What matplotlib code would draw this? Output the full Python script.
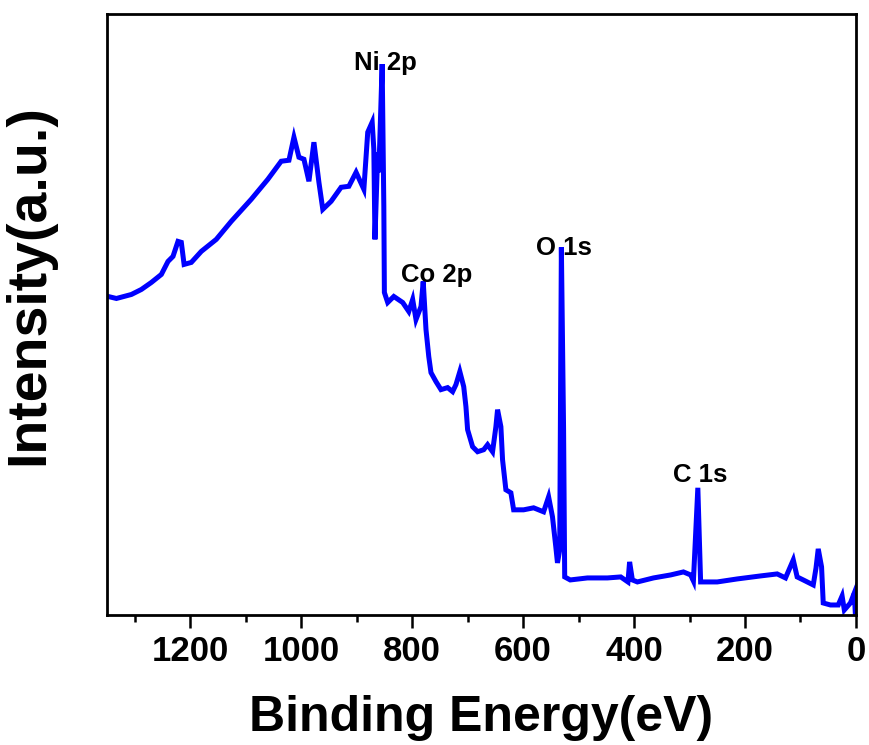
import numpy as np
import matplotlib
matplotlib.use("Agg")
import matplotlib.pyplot as plt

plt.rcParams["font.family"] = ["Liberation Sans", "DejaVu Sans"]
plt.rcParams["font.weight"] = "bold"

# XPS survey spectrum (binding energy in eV, intensity in a.u.)
energy = [1348, 1333, 1306, 1288, 1270, 1252, 1240, 1231, 1222, 1216, 1211, 1198,
          1180, 1153, 1126, 1090, 1060, 1036, 1022, 1013, 1004, 995, 986, 977,
          968, 961, 946, 928, 914, 901, 887, 880, 872, 869, 867, 862,
          860, 854, 851, 850, 844, 833, 817, 806, 799, 793, 784, 780,
          775, 770, 766, 757, 748, 736, 727, 721, 714, 707, 703, 700,
          691, 682, 671, 664, 655, 649, 646, 640, 637, 631, 622, 617,
          599, 581, 563, 554, 547, 541, 538, 534, 531, 527, 525, 515,
          484, 448, 424, 411, 408, 403, 394, 365, 334, 311, 298, 293,
          285, 280, 250, 214, 172, 142, 127, 113, 106, 95, 77, 72,
          68, 62, 59, 46, 32, 25, 21, 10, 3, 1]
intensity = [318, 316, 320, 325, 332, 340, 353, 358, 373, 372, 350, 352,
             363, 375, 393, 415, 435, 453, 454, 477, 457, 455, 433, 472,
             432, 405, 413, 427, 428, 442, 425, 482, 492, 465, 375, 462,
             442, 550, 408, 322, 312, 318, 312, 303, 315, 295, 308, 333,
             285, 258, 242, 233, 225, 227, 223, 230, 243, 228, 208, 185,
             168, 163, 165, 170, 163, 188, 205, 188, 155, 125, 122, 105,
             105, 107, 103, 118, 98, 68, 52, 65, 367, 185, 38, 35,
             37, 37, 38, 33, 53, 35, 33, 37, 40, 43, 40, 34,
             127, 33, 33, 36, 39, 41, 37, 55, 38, 35, 30, 47,
             66, 48, 12, 10, 10, 19, 5, 12, 22, 0]

peak_names = ["Ni 2p", "Co 2p", "O 1s", "C 1s"]
peak_x = [905, 820, 577, 329]
peak_y = [544, 332, 359, 133]

fig = plt.figure(figsize=(8.69, 7.45), dpi=100)
ax = fig.add_axes([0.1231, 0.1745, 0.8619, 0.8067])

ax.plot(energy, intensity, color="#0000ff", lw=3.6, solid_joinstyle="miter")

for name, x, y in zip(peak_names, peak_x, peak_y):
    ax.text(x, y, name, fontsize=18.5, fontweight="bold", ha="left", va="baseline")

ax.set_xlim(1350, 0)
ax.set_ylim(0, 600)
ax.set_xticks([1200, 1000, 800, 600, 400, 200, 0])
ax.set_xticks(np.arange(100, 1400, 200), minor=True)
ax.set_yticks([])

ax.tick_params(axis="x", which="major", length=9.5, width=1.8, labelsize=25, pad=5)
ax.tick_params(axis="x", which="minor", length=5, width=1.8)
for lab in ax.get_xticklabels():
    lab.set_fontweight("bold")
for sp in ax.spines.values():
    sp.set_linewidth(2)

ax.set_xlabel("Binding Energy(eV)", fontsize=36, fontweight="bold", labelpad=19)
ax.set_ylabel("Intensity(a.u.)", fontsize=40, fontweight="bold")
ax.yaxis.set_label_coords(-0.0694, 0.549)

fig.savefig("out.png", dpi=100)
